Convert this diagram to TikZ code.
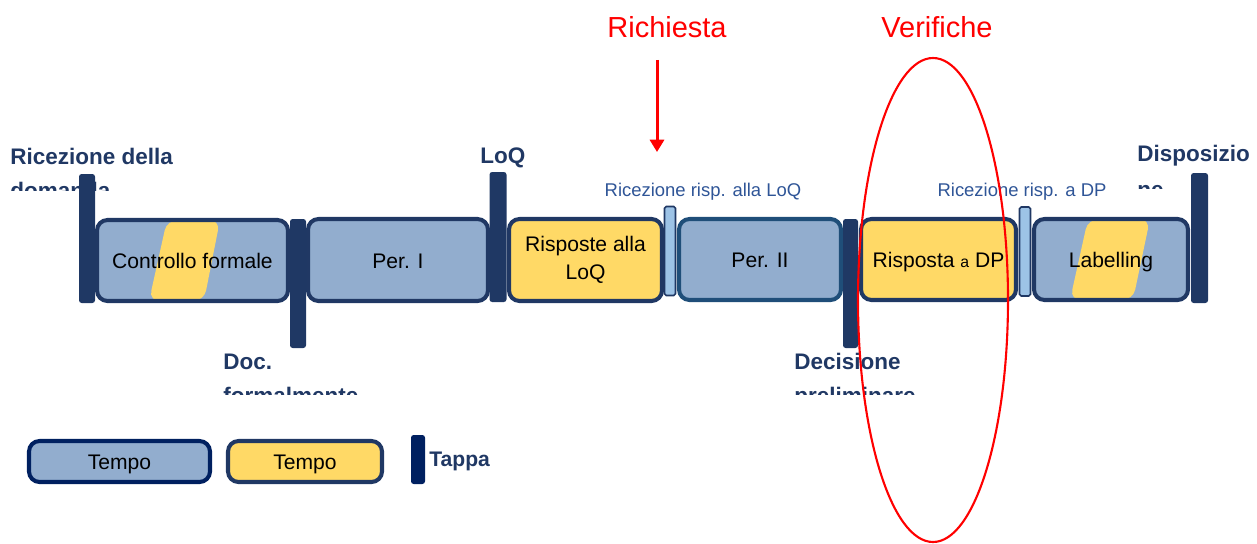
\documentclass[tikz,border=0pt]{standalone}
\usepackage{fontspec}
\setmainfont{Liberation Sans}
\usetikzlibrary{arrows.meta,calc}

\definecolor{boxline}{HTML}{203864}
\definecolor{navy}{HTML}{1F3864}
\definecolor{legnavy}{HTML}{002060}
\definecolor{per2line}{HTML}{1F4E79}
\definecolor{blueph}{RGB}{146,173,206}
\definecolor{ylw}{HTML}{FFD966}
\definecolor{lightbar}{HTML}{9DC3E6}
\definecolor{risplabel}{HTML}{2F5597}

\tikzset{
  band/.style n args={4}{path picture={
    \fill[ylw] ($(path picture bounding box.north west)+(#1,0)$)
      -- ($(path picture bounding box.north west)+(#2,0)$)
      -- ($(path picture bounding box.south west)+(#3,0)$)
      -- ($(path picture bounding box.south west)+(#4,0)$) -- cycle;}}
}

\begin{document}
\begin{tikzpicture}[x=0.02cm, y=-0.02cm,
  wh/.style 2 args={minimum width=#1*0.02cm, minimum height=#2*0.02cm},
  phase/.style={draw=boxline, line width=2.3pt, rounded corners=6pt, inner sep=0pt,
    text height=9.6pt, text depth=0pt,
    align=center, text=black, font=\fontsize{12}{16}\selectfont},
  bluephase/.style={phase, fill=blueph},
  yellowphase/.style={phase, fill=ylw},
  tappa/.style={fill=navy, rounded corners=1.5pt, inner sep=0pt},
  ricez/.style={fill=lightbar, draw=boxline, line width=0.9pt, rounded corners=1pt, inner sep=0pt},
  mslabel/.style={anchor=base west, inner sep=0pt, text=boxline, font=\fontsize{12.8}{15}\selectfont\bfseries},
  risplabel/.style={anchor=base, inner sep=0pt, text=risplabel, font=\fontsize{10.5}{13}\selectfont},
  redlabel/.style={inner sep=0pt, text=red, font=\fontsize{16.5}{20}\selectfont},
  reqarrow/.style={red, line width=1.7pt, -{Triangle[width=8pt,length=7pt]}}]
\useasboundingbox (0,0) rectangle (1257,544);

% fasi
\node[bluephase, wh={191}{81}, band={70}{123}{107}{52}] (ctrl) at (192.5,260.5) {Controllo formale};
\node[bluephase, wh={180}{82}] (per1) at (398,260) {Per. I};
\node[yellowphase, wh={153}{82}, text height=, text depth=] (rlq) at (585.5,260) {Risposte alla\\LoQ};
\node[bluephase, draw=per2line, wh={162}{81}] (per2) at (760,259.5) {Per. II};
\node[yellowphase, wh={155}{81}] (rdp) at (938.5,259.5) {Risposta {\fontsize{9}{11}\selectfont a} DP};
\node[bluephase, wh={154}{81}, band={54}{116}{99}{36}] (lab) at (1111,259.5) {Labelling};

% etichette delle tappe
\node[mslabel] (ricdom) at (10,164) {Ricezione della};
\node[mslabel] (loq) at (480,163) {LoQ};
\node[mslabel] (disp) at (1137,161) {Disposizio};
\node[mslabel] (doc) at (223,369) {Doc.};
\node[mslabel] (dec) at (794,369) {Decisione};
\begin{scope}
\clip (0,170) rectangle (300,190) (1100,170) rectangle (1257,188) (200,380) rectangle (950,394);
\node[mslabel] (ricdom2) at (10,198) {domanda};
\node[mslabel] (disp2) at (1137,197) {ne};
\node[mslabel] (doc2) at (223,403) {formalmente};
\node[mslabel] (dec2) at (794,403) {preliminare};
\end{scope}
\node[risplabel] (rrl) at (703,196) {Ricezione risp. alla LoQ};
\node[risplabel] (rrd) at (1022,196) {Ricezione risp. a DP};

% tappe
\node[tappa, wh={16}{129}] (t1) at (87,238.5) {};
\node[tappa, wh={16}{129}] (t2) at (298,283.5) {};
\node[tappa, wh={17}{130}] (t3) at (498,237) {};
\node[ricez, wh={11}{89}] (r1) at (670,251) {};
\node[tappa, wh={15}{129}] (t4) at (850.5,283.5) {};
\node[ricez, wh={11}{89}] (r2) at (1025,251.5) {};
\node[tappa, wh={17}{130}] (t5) at (1199.5,238) {};

% legenda
\node[bluephase, draw=legnavy, wh={181}{41}] (legblue) at (119.5,461.5) {Tempo};
\node[yellowphase, wh={154}{41}] (legylw) at (305,461.5) {Tempo};
\node[tappa, fill=legnavy, wh={14}{49}] (legbar) at (418,459.5) {};
\node[mslabel, anchor=west, font=\fontsize{12}{14}\selectfont\bfseries] (legtappa) at (429,461) {Tappa};

% evidenziazioni
\node[redlabel] (richiesta) at (667,27) {Richiesta};
\node[redlabel] (verifiche) at (937,27) {Verifiche};
\coordinate (reqtop) at (657,60);
\coordinate (reqtip) at (657,152);
\draw[reqarrow] (reqtop) -- (reqtip);
\draw[red, line width=1.2pt] (933,300) ellipse [x radius=75, y radius=242];
\end{tikzpicture}
\end{document}
